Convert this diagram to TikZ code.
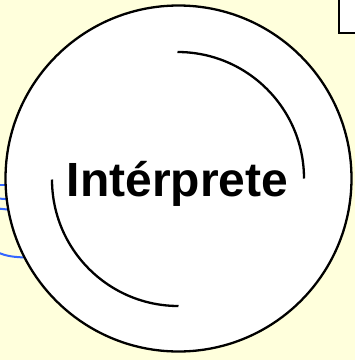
\documentclass[tikz,border=0pt]{standalone}
\usepackage{fontspec}
\setmainfont{Liberation Sans}
\definecolor{paper}{HTML}{FFFFDC}
\definecolor{ringblue}{HTML}{3366FF}

\begin{document}
\begin{tikzpicture}[x=1pt,y=1pt]
  \useasboundingbox (0,0) rectangle (355,-360);
  \fill[paper] (0,0) rectangle (355,-360);
  \clip (0,0) rectangle (355,-360);

  % box at the top right
  \draw[line width=2.5pt,fill=white] (339,-33) rectangle (370,10);

  % blue rings behind the circle
  \draw[ringblue,line width=2pt] (-2,-185) -- (12,-185);
  \draw[ringblue,line width=2pt] (-2,-198.5) -- (12,-199.5);
  \draw[ringblue,line width=2pt] (-2,-208.5) -- (12,-210);
  \draw[ringblue,line width=2pt] (-2,-252.5) .. controls (6,-256) and (14,-257.5) .. (30,-257.5);

  \node[circle,draw,line width=2.3pt,fill=white,minimum size=346pt,inner sep=0pt] (interp) at (178.5,-178.5) {};
  \draw[line width=2.3pt] (interp.center) ++(-1,126.5) arc[start angle=90,end angle=0,radius=126.5pt];
  \draw[line width=2.3pt] (interp.center) ++(-126.5,-1) arc[start angle=180,end angle=270,radius=126.5pt];

  \node[anchor=base,inner sep=0pt,font=\bfseries\fontsize{48}{56}\selectfont] (label) at (177.5,-196) {Intérprete};
\end{tikzpicture}
\end{document}
